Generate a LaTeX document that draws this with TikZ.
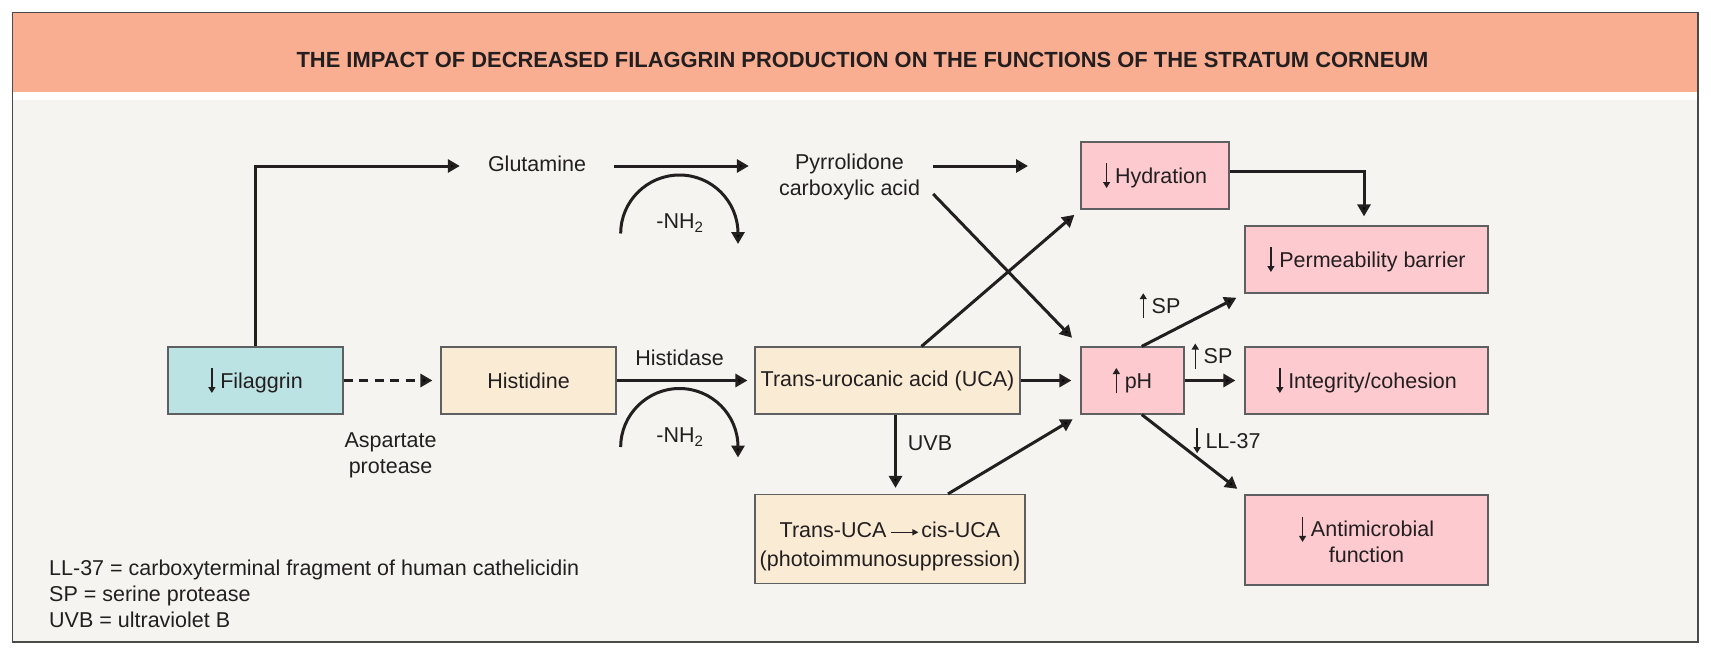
\documentclass[tikz,border=0pt]{standalone}
\usepackage{fontspec}
\setmainfont{Liberation Sans}
\usetikzlibrary{arrows.meta,calc}
\definecolor{headc}{HTML}{F9AE92}
\definecolor{bodyc}{HTML}{F5F4F0}
\definecolor{cyanc}{HTML}{BCE3E3}
\definecolor{creamc}{HTML}{FAEBD5}
\definecolor{pinkc}{HTML}{FCCACF}
\definecolor{boxline}{HTML}{5E5F61}
\definecolor{linec}{HTML}{231F20}
\definecolor{framec}{HTML}{4A4A4A}
\newcommand{\darr}{\tikz[baseline=0pt,x=1pt,y=1pt]{\useasboundingbox (0,-5) rectangle (12,20); \draw[line width=1.3pt,draw=linec,fill=linec,-{Triangle[length=6pt,width=7pt]}] (3.6,20) -- (3.6,-5);}}
\newcommand{\uarr}{\tikz[baseline=0pt,x=1pt,y=1pt]{\useasboundingbox (0,-5) rectangle (12,20); \draw[line width=1.3pt,draw=linec,fill=linec,-{Triangle[length=6pt,width=7pt]}] (3.6,-5) -- (3.6,20);}}
\newcommand{\rarr}{\tikz[baseline=0pt,x=1pt,y=1pt]{\useasboundingbox (0,0) rectangle (27,10); \draw[line width=1.2pt,draw=linec,fill=linec,-{Triangle[length=6pt,width=6pt]}] (0,5) -- (27,5);}}
\begin{document}
\begin{tikzpicture}[x=1pt,y=-1pt,
  every node/.style={font=\fontsize{21.5pt}{26pt}\selectfont, text=linec},
  box/.style={draw=boxline, line width=1.2pt, minimum height=67pt, inner sep=0pt, align=center},
  arr/.style={draw=linec, line width=3pt, -{Triangle[length=12pt,width=13pt]}},
  dasharr/.style={arr, dash pattern=on 9pt off 6.5pt},
  lbl/.style={inner sep=0pt, align=center},
  legend/.style={inner sep=0pt, anchor=west, text height=15.5pt, text depth=0pt}]
\fill[white] (0,0) rectangle (1711,653);
\useasboundingbox (0,0) rectangle (1711,653);
\fill[headc] (12.5,12.5) rectangle (1698,92);
\fill[white] (12.5,92) rectangle (1698,100);
\fill[bodyc] (12.5,100) rectangle (1698,642);
\draw[framec, line width=1.3pt] (12.5,12.5) rectangle (1698,642);
\node[font=\bfseries\fontsize{21.9pt}{25pt}\selectfont] (title) at (862.5,60) {THE IMPACT OF DECREASED FILAGGRIN PRODUCTION ON THE FUNCTIONS OF THE STRATUM CORNEUM};
% boxes
\node[box, fill=cyanc, minimum width=175pt] (filag) at (255.5,380.5) {\darr Filaggrin};
\node[box, fill=creamc, minimum width=175pt] (hist) at (528.5,380.5) {Histidine};
\node[box, fill=creamc, minimum width=265pt] (uca) at (887.5,380.5) {Trans-urocanic acid (UCA)};
\node[box, fill=pinkc, minimum width=103pt] (ph) at (1132.5,380.5) {\uarr pH};
\node[box, fill=pinkc, minimum width=243pt] (integ) at (1366.5,380.5) {\darr Integrity/cohesion};
\node[box, fill=pinkc, minimum width=243pt] (perm) at (1366.5,259.5) {\darr Permeability barrier};
\node[box, fill=pinkc, minimum width=148pt] (hyd) at (1155,175.5) {\darr Hydration};
\node[box, fill=creamc, minimum width=270pt, minimum height=89pt] (cis) at (890,539) {\rule{0pt}{30pt}Trans-UCA\hspace{5pt}\rarr\hspace{3pt}cis-UCA\\[3pt](photoimmunosuppression)};
\node[box, fill=pinkc, minimum width=243pt, minimum height=90pt] (anti) at (1366.5,540) {\darr Antimicrobial\\function};
% labels
\node[lbl, inner xsep=28pt, text height=15.5pt, text depth=5pt] (glut) at (537,166) {Glutamine};
\node[lbl, inner xsep=13pt] (pyr) at (849.5,177) {Pyrrolidone\\carboxylic acid};
\node[lbl] (hdase) at (679.6,358) {Histidase};
\node[lbl] (nh1) at (680,223) {-NH\textsubscript{2}};
\node[lbl] (nh2) at (680,437) {-NH\textsubscript{2}};
\node[lbl] (asp) at (390.6,455) {Aspartate\\protease};
\node[lbl] (uvb) at (930,443) {UVB};
\node[lbl] (sp1) at (1160,305.7) {\uarr SP};
\node[lbl] (sp2) at (1212,356) {\uarr SP};
\node[lbl] (ll) at (1227,440.7) {\darr LL-37};
\node[legend] (legA) at (49,567.7) {LL-37 = carboxyterminal fragment of human cathelicidin};
\node[legend] (legB) at (49,593.3) {SP = serine protease};
\node[legend] (legC) at (49,620) {UVB = ultraviolet B};
\coordinate (pyrtip) at (1028,166);
\coordinate (uvbs) at ($(uca.south)+(8,0)$);
% connectors
\draw[arr] (filag.north) |- (glut.west);
\draw[arr] (glut.east) -- ([xshift=-17pt]pyr.west |- glut.east);
\draw[arr] (pyr.east |- glut.east) -- (pyrtip);
\draw[arr, shorten >=12pt] ($(pyr.east)+(0,17)$) -- (ph.north west);
\draw[dasharr, shorten >=8pt] (filag.east) -- (hist.west);
\draw[arr, shorten >=7pt] (hist.east) -- (uca.west);
\draw[arr, shorten >=9pt] (uca.east) -- (ph.west);
\draw[arr, shorten >=8pt] ($(uca.north)+(34,0)$) -- (hyd.south west);
\draw[arr, shorten >=6pt] (uvbs) -- (uvbs |- cis.north);
\draw[arr, shorten >=9pt] ($(cis.north)+(58,0)$) -- (ph.south west);
\draw[arr, shorten >=9pt] ($(ph.north)+(9.3,0)$) -- (perm.south west);
\draw[arr, shorten >=9pt] (ph.east) -- (integ.west);
\draw[arr, shorten >=9pt] ($(ph.south)+(9.3,0)$) -- (anti.north west);
\draw[arr, shorten >=9pt] ($(hyd.east)+(0,-4)$) -| ([xshift=-2.5pt]perm.north);
% deamination arcs
\draw[arr] (620.7,233.5) .. controls (620.7,201.2) and (647.2,175) .. (679.5,175) .. controls (711.8,175) and (738,201.2) .. (738,233.5) -- (738,244);
\draw[arr] (620.7,447) .. controls (620.7,414.7) and (647.2,388.5) .. (679.5,388.5) .. controls (711.8,388.5) and (738,414.7) .. (738,447) -- (738,457.5);
\end{tikzpicture}
\end{document}
